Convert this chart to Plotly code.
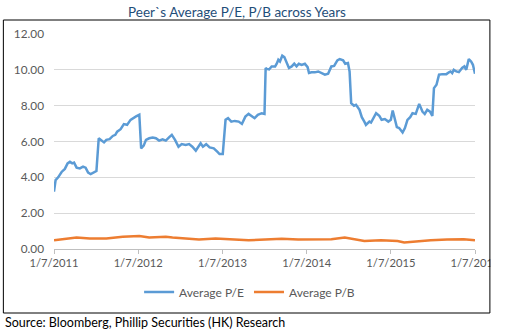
import plotly.graph_objects as go

pe_dates = [
    "2011-01-07", "2011-01-14", "2011-01-25", "2011-02-09", "2011-02-23", "2011-03-07", "2011-03-17",
    "2011-03-27", "2011-04-04", "2011-04-15", "2011-04-29", "2011-05-13", "2011-05-24", "2011-06-04",
    "2011-06-15", "2011-06-30", "2011-07-10", "2011-07-20", "2011-07-31", "2011-08-12", "2011-08-22",
    "2011-09-05", "2011-09-19", "2011-09-30", "2011-10-08", "2011-10-23", "2011-11-06", "2011-11-20",
    "2011-12-05", "2011-12-19", "2011-12-29", "2012-01-12", "2012-01-20", "2012-01-31", "2012-02-10",
    "2012-02-24", "2012-03-10", "2012-03-24", "2012-04-07", "2012-04-22", "2012-05-06", "2012-05-21",
    "2012-06-01", "2012-06-15", "2012-06-30", "2012-07-14", "2012-07-31", "2012-08-15", "2012-08-29",
    "2012-09-13", "2012-09-24", "2012-10-04", "2012-10-14", "2012-10-28", "2012-11-12", "2012-11-30",
    "2012-12-15", "2012-12-25", "2013-01-08", "2013-01-20", "2013-01-31", "2013-02-14", "2013-03-01",
    "2013-03-18", "2013-04-01", "2013-04-16", "2013-04-30", "2013-05-14", "2013-05-26", "2013-06-09",
    "2013-06-26", "2013-07-08", "2013-07-13", "2013-07-18", "2013-07-28", "2013-08-08", "2013-08-23",
    "2013-08-30", "2013-09-06", "2013-09-13", "2013-09-23", "2013-10-02", "2013-10-12", "2013-10-22",
    "2013-11-03", "2013-11-14", "2013-11-24", "2013-12-04", "2013-12-16", "2013-12-30", "2014-01-11",
    "2014-01-17", "2014-01-28", "2014-02-11", "2014-02-26", "2014-03-12", "2014-03-27", "2014-04-10",
    "2014-04-24", "2014-05-06", "2014-05-20", "2014-05-30", "2014-06-14", "2014-06-23", "2014-07-05",
    "2014-07-12", "2014-07-19", "2014-07-31", "2014-08-09", "2014-08-24", "2014-09-03", "2014-09-14",
    "2014-09-21", "2014-10-06", "2014-10-13", "2014-11-04", "2014-11-18", "2014-11-28", "2014-12-12",
    "2014-12-27", "2015-01-07", "2015-01-15", "2015-01-22", "2015-02-02", "2015-02-12", "2015-02-27",
    "2015-03-09", "2015-03-20", "2015-04-01", "2015-04-11", "2015-04-25", "2015-05-10", "2015-05-24",
    "2015-06-03", "2015-06-14", "2015-06-26", "2015-07-06", "2015-07-13", "2015-07-24", "2015-08-04",
    "2015-08-18", "2015-09-05", "2015-09-16", "2015-09-23", "2015-09-30", "2015-10-07", "2015-10-18",
    "2015-10-29", "2015-11-12", "2015-11-22", "2015-11-30", "2015-12-11", "2015-12-21", "2015-12-29",
    "2016-01-07",
]
pe_values = [
    3.20, 3.85, 4.00, 4.30, 4.47, 4.78, 4.87,
    4.78, 4.82, 4.54, 4.50, 4.60, 4.54, 4.26,
    4.18, 4.28, 4.35, 6.18, 6.09, 5.95, 6.09,
    6.13, 6.31, 6.37, 6.55, 6.69, 6.97, 6.93,
    7.21, 7.34, 7.40, 7.49, 5.62, 5.77, 6.09,
    6.18, 6.22, 6.18, 6.05, 6.12, 6.05, 6.24,
    6.37, 6.09, 5.71, 5.86, 5.81, 5.86, 5.71,
    5.49, 5.67, 5.90, 5.71, 5.85, 5.67, 5.62,
    5.43, 5.30, 5.30, 7.21, 7.30, 7.11, 7.15,
    7.11, 6.98, 7.39, 7.54, 7.39, 7.30, 7.49,
    7.58, 7.54, 10.10, 10.05, 10.02, 10.19, 10.19,
    10.34, 10.56, 10.47, 10.79, 10.71, 10.38, 10.10,
    10.19, 10.34, 10.19, 10.34, 10.28, 10.34, 10.15,
    9.82, 9.86, 9.86, 9.91, 9.82, 9.73, 9.78,
    10.19, 10.22, 10.53, 10.60, 10.53, 10.34, 10.38,
    9.91, 8.14, 8.00, 8.05, 7.77, 7.36, 7.11,
    6.93, 7.11, 7.06, 7.58, 7.43, 7.21, 7.25,
    7.11, 7.21, 7.73, 7.30, 6.80, 6.75, 6.50,
    6.75, 7.21, 7.36, 7.58, 7.54, 8.10, 7.67,
    7.54, 7.77, 7.67, 7.43, 8.98, 9.17, 9.73,
    9.76, 9.76, 9.86, 9.91, 9.82, 10.00, 9.91,
    9.87, 10.10, 10.19, 10.00, 10.60, 10.47, 10.28,
    9.78,
]

pb_dates = [
    "2011-01-07", "2011-02-16", "2011-04-15", "2011-06-11", "2011-08-22", "2011-11-01", "2012-01-12",
    "2012-02-24", "2012-05-06", "2012-06-04", "2012-07-31", "2012-09-27", "2012-12-08", "2013-02-17",
    "2013-04-30", "2013-07-11", "2013-09-21", "2013-12-01", "2014-02-11", "2014-04-24", "2014-06-21",
    "2014-08-03", "2014-09-14", "2014-11-25", "2015-02-05", "2015-03-06", "2015-05-02", "2015-06-29",
    "2015-09-08", "2015-11-19", "2016-01-07",
]
pb_values = [
    0.49, 0.55, 0.64, 0.59, 0.59, 0.68, 0.73,
    0.64, 0.68, 0.64, 0.59, 0.53, 0.59, 0.53,
    0.49, 0.53, 0.57, 0.53, 0.55, 0.55, 0.64,
    0.55, 0.45, 0.49, 0.45, 0.36, 0.43, 0.49,
    0.53, 0.55, 0.49,
]

tick_dates = ["2011-01-07", "2012-01-07", "2013-01-07", "2014-01-07", "2015-01-07", "2016-01-07"]
tick_labels = ["1/7/2011", "1/7/2012", "1/7/2013", "1/7/2014", "1/7/2015", "1/7/2016"]
y_ticks = [0, 2, 4, 6, 8, 10, 12]
y_labels = ["0.00", "2.00", "4.00", "6.00", "8.00", "10.00", "12.00"]

FONT = "Lato"
W, H = 512, 331
L, R, T, B = 54, 34, 34, 82
pw, ph = W - L - R, H - T - B

def px(x):
    return (x - L) / pw

def py(y):
    return (H - B - y) / ph

fig = go.Figure()
fig.add_trace(go.Scatter(x=pe_dates, y=pe_values, mode="lines", name="Average P/E",
                         line=dict(color="#5B9BD5", width=2.5)))
fig.add_trace(go.Scatter(x=pb_dates, y=pb_values, mode="lines", name="Average P/B",
                         line=dict(color="#ED7D31", width=2.5)))

fig.update_layout(
    width=W, height=H,
    margin=dict(l=L, r=R, t=T, b=B, pad=0),
    paper_bgcolor="white", plot_bgcolor="white",
    font=dict(family=FONT, size=12, color="#595959"),
    showlegend=True,
    legend=dict(orientation="h", x=px(251), y=py(292), xanchor="center", yanchor="middle",
                font=dict(family=FONT, size=12, color="#595959"), itemwidth=30,
                bgcolor="rgba(0,0,0,0)"),
    xaxis=dict(type="date", range=["2011-01-07", "2016-01-07"], tickmode="array",
               tickvals=tick_dates, ticktext=tick_labels, showgrid=False,
               showline=True, linecolor="#BFBFBF", linewidth=1,
               ticks="outside", ticklen=4, tickcolor="#BFBFBF",
               ticklabeloverflow="allow",
               tickfont=dict(family=FONT, size=11.2, color="#595959"), zeroline=False),
    yaxis=dict(range=[0, 12], tickmode="array", tickvals=y_ticks, ticktext=y_labels,
               showgrid=True, gridcolor="#D9D9D9", gridwidth=1, zeroline=False,
               showline=False, ticks="", ticklabelstandoff=9,
               tickfont=dict(family=FONT, size=11.8, color="#595959")),
    shapes=[
        dict(type="rect", xref="paper", yref="paper", x0=px(493.5), x1=px(530),
             y0=py(330), y1=py(0), fillcolor="white", line=dict(width=0), layer="above"),
        dict(type="rect", xref="paper", yref="paper", x0=px(3), x1=px(493),
             y0=py(313), y1=py(20), fillcolor="rgba(0,0,0,0)",
             line=dict(color="black", width=1), layer="above"),
    ],
    annotations=[
        dict(text="Peer`s Average P/E, P/B across Years", xref="paper", yref="paper",
             x=px(238), y=py(12), xanchor="center", yanchor="middle", showarrow=False,
             font=dict(family=FONT, size=13.5, color="#1F4E79")),
        dict(text="Source: Bloomberg, Phillip Securities (HK) Research", xref="paper", yref="paper",
             x=px(3), y=py(322), xanchor="left", yanchor="middle", showarrow=False,
             font=dict(family=FONT, size=12.5, color="black")),
    ],
)

fig.write_html("out.html")
